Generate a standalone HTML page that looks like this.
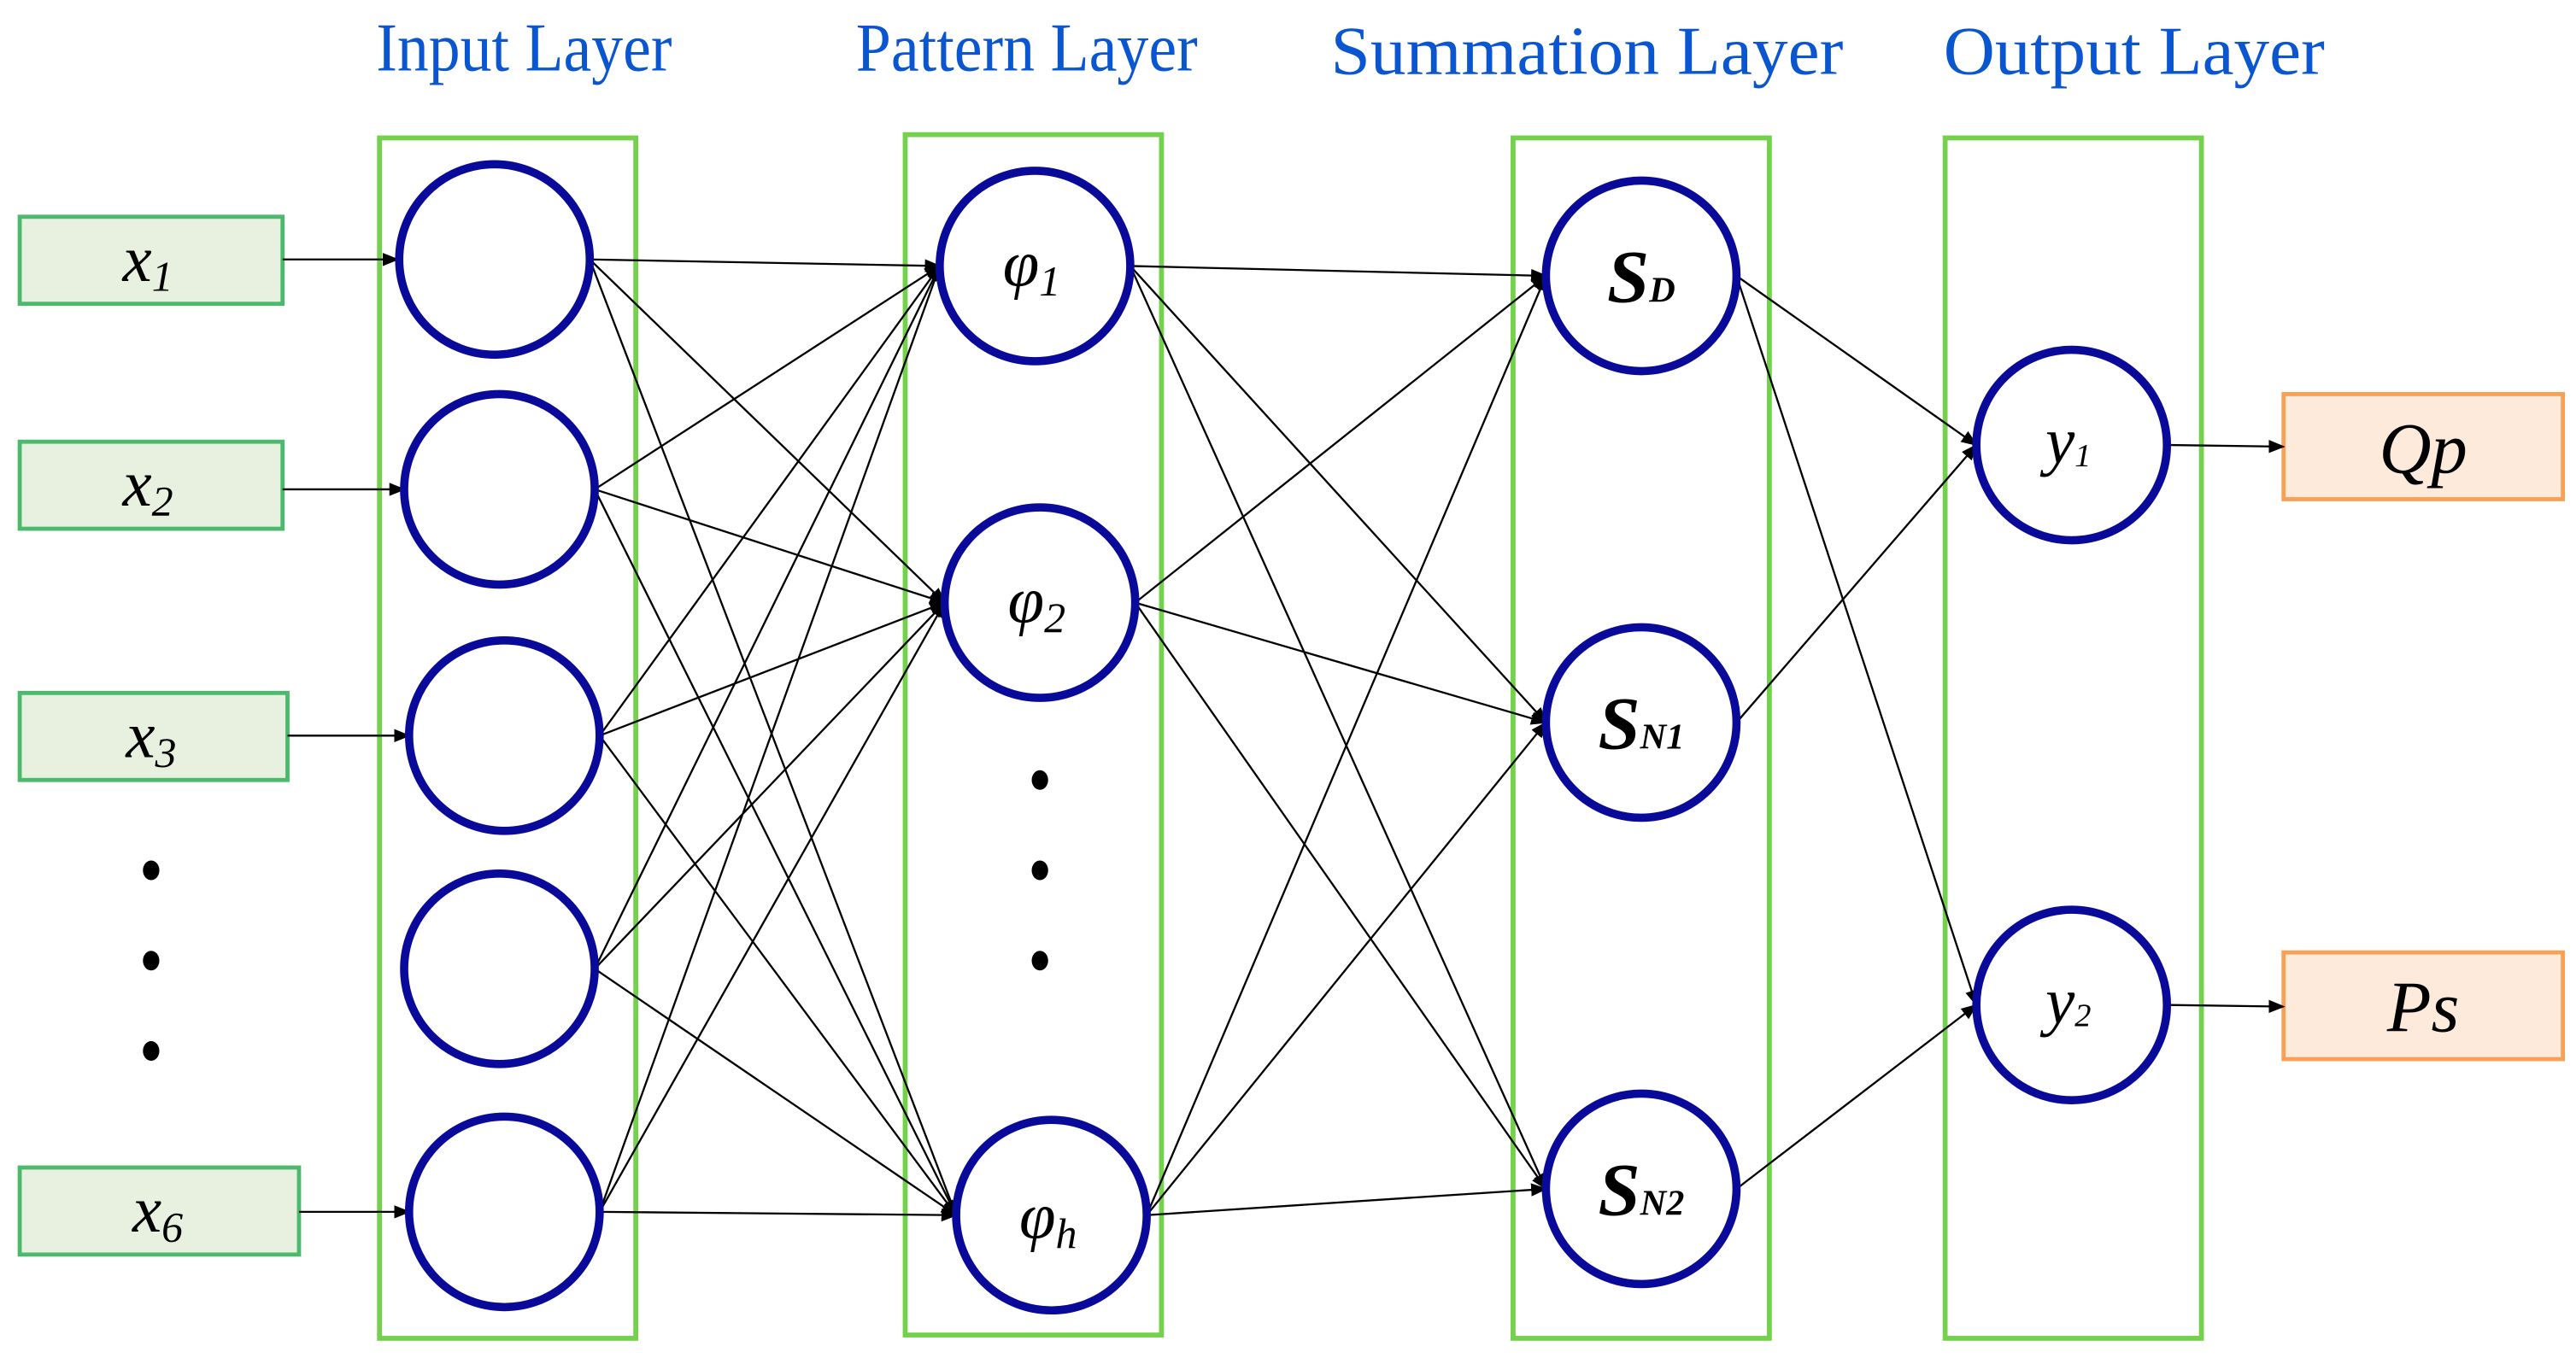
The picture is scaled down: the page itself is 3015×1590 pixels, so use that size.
<!DOCTYPE html>
<html><head><meta charset="utf-8"><style>html,body{margin:0;padding:0;background:#fff}svg{display:block}</style></head>
<body>
<svg width="3015" height="1590" viewBox="0 0 1568 827" preserveAspectRatio="none" xmlns="http://www.w3.org/2000/svg">
<defs><marker id="a" markerWidth="10" markerHeight="8" refX="9" refY="4" orient="auto" markerUnits="userSpaceOnUse"><path d="M0,0 L10,4 L0,8 Z" fill="#000"/></marker></defs>
<g font-family="Liberation Serif, serif" fill="#0a55d0" font-size="42">
<text x="229" y="43" textLength="180" lengthAdjust="spacingAndGlyphs">Input Layer</text>
<text x="521" y="43" textLength="208" lengthAdjust="spacingAndGlyphs">Pattern Layer</text>
<text x="810" y="45" textLength="312" lengthAdjust="spacingAndGlyphs">Summation Layer</text>
<text x="1183" y="45" textLength="232" lengthAdjust="spacingAndGlyphs">Output Layer</text>
</g>
<g fill="none" stroke="#74d14c" stroke-width="3">
<rect x="231" y="84" width="156" height="731"/>
<rect x="551" y="82" width="156" height="731"/>
<rect x="921" y="84" width="156" height="731"/>
<rect x="1184" y="84" width="156" height="731"/>
</g>
<g fill="#e8f1df" stroke="#4cba6c" stroke-width="2.5">
<rect x="12" y="132" width="160" height="53"/>
<rect x="12" y="269" width="160" height="53"/>
<rect x="12" y="422" width="163" height="53"/>
<rect x="12" y="711" width="170" height="53"/>
</g>
<g fill="#fdeadb" stroke="#f7a056" stroke-width="2.5">
<rect x="1390" y="240" width="170" height="64"/>
<rect x="1390" y="580" width="170" height="65"/>
</g>
<g stroke="#000" stroke-width="1.2" marker-end="url(#a)">
<line x1="172" y1="158" x2="242" y2="158"/>
<line x1="172" y1="298" x2="246" y2="298"/>
<line x1="175" y1="448" x2="249" y2="448"/>
<line x1="182" y1="738" x2="249" y2="738"/>
<line x1="359" y1="158" x2="572" y2="162"/><line x1="359" y1="158" x2="575" y2="367"/><line x1="359" y1="158" x2="582" y2="740"/>
<line x1="362" y1="298" x2="572" y2="162"/><line x1="362" y1="298" x2="575" y2="367"/><line x1="362" y1="298" x2="582" y2="740"/>
<line x1="365" y1="448" x2="572" y2="162"/><line x1="365" y1="448" x2="575" y2="367"/><line x1="365" y1="448" x2="582" y2="740"/>
<line x1="362" y1="590" x2="572" y2="162"/><line x1="362" y1="590" x2="575" y2="367"/><line x1="362" y1="590" x2="582" y2="740"/>
<line x1="365" y1="738" x2="572" y2="162"/><line x1="365" y1="738" x2="575" y2="367"/><line x1="365" y1="738" x2="582" y2="740"/>
<line x1="688" y1="162" x2="941" y2="168"/><line x1="688" y1="162" x2="941" y2="440"/><line x1="688" y1="162" x2="941" y2="724"/>
<line x1="691" y1="367" x2="941" y2="168"/><line x1="691" y1="367" x2="941" y2="440"/><line x1="691" y1="367" x2="941" y2="724"/>
<line x1="698" y1="740" x2="941" y2="168"/><line x1="698" y1="740" x2="941" y2="440"/><line x1="698" y1="740" x2="941" y2="724"/>
<line x1="1057" y1="168" x2="1203" y2="271"/><line x1="1057" y1="168" x2="1203" y2="612"/>
<line x1="1057" y1="440" x2="1203" y2="271"/><line x1="1057" y1="724" x2="1203" y2="612"/>
<line x1="1319" y1="271" x2="1390" y2="272"/><line x1="1319" y1="612" x2="1390" y2="613"/>
</g>
<g fill="#fff" stroke="#0a0a9a" stroke-width="5">
<ellipse cx="301" cy="158" rx="58" ry="58"/><ellipse cx="304" cy="298" rx="58" ry="58"/><ellipse cx="307" cy="448" rx="58" ry="58"/><ellipse cx="304" cy="590" rx="58" ry="58"/><ellipse cx="307" cy="738" rx="58" ry="58"/>
<ellipse cx="630" cy="162" rx="58" ry="58"/><ellipse cx="633" cy="367" rx="58" ry="58"/><ellipse cx="640" cy="740" rx="58" ry="58"/>
<ellipse cx="999" cy="168" rx="58" ry="58"/><ellipse cx="999" cy="440" rx="58" ry="58"/><ellipse cx="999" cy="724" rx="58" ry="58"/>
<ellipse cx="1261" cy="271" rx="58" ry="58"/><ellipse cx="1261" cy="612" rx="58" ry="58"/>
</g>
<g fill="#000">
<ellipse cx="92" cy="530" rx="5" ry="6"/><ellipse cx="92" cy="585" rx="5" ry="6"/><ellipse cx="92" cy="640" rx="5" ry="6"/>
<ellipse cx="633" cy="475" rx="5" ry="6"/><ellipse cx="633" cy="530" rx="5" ry="6"/><ellipse cx="633" cy="585" rx="5" ry="6"/>
</g>
<g font-family="Liberation Serif, serif" font-style="italic" fill="#000" font-size="40" text-anchor="middle">
<text x="90" y="171">x<tspan font-size="26" dy="6">1</tspan></text>
<text x="90" y="308">x<tspan font-size="26" dy="6">2</tspan></text>
<text x="92" y="461">x<tspan font-size="26" dy="6">3</tspan></text>
<text x="96" y="750">x<tspan font-size="26" dy="6">6</tspan></text>
<text x="628" y="174">φ<tspan font-size="26" dy="6">1</tspan></text>
<text x="631" y="379">φ<tspan font-size="26" dy="6">2</tspan></text>
<text x="638" y="754">φ<tspan font-size="26" dy="6">h</tspan></text>
<text x="999" y="184" font-weight="bold" font-size="46">S<tspan font-size="22">D</tspan></text>
<text x="999" y="456" font-weight="bold" font-size="46">S<tspan font-size="22">N1</tspan></text>
<text x="999" y="740" font-weight="bold" font-size="46">S<tspan font-size="22">N2</tspan></text>
<text x="1259" y="282">y<tspan font-size="20" dy="2">1</tspan></text>
<text x="1259" y="623">y<tspan font-size="20" dy="2">2</tspan></text>
<text x="1475" y="288" font-size="44">Qp</text>
<text x="1475" y="628" font-size="44">Ps</text>
</g>
</svg>
</body></html>
